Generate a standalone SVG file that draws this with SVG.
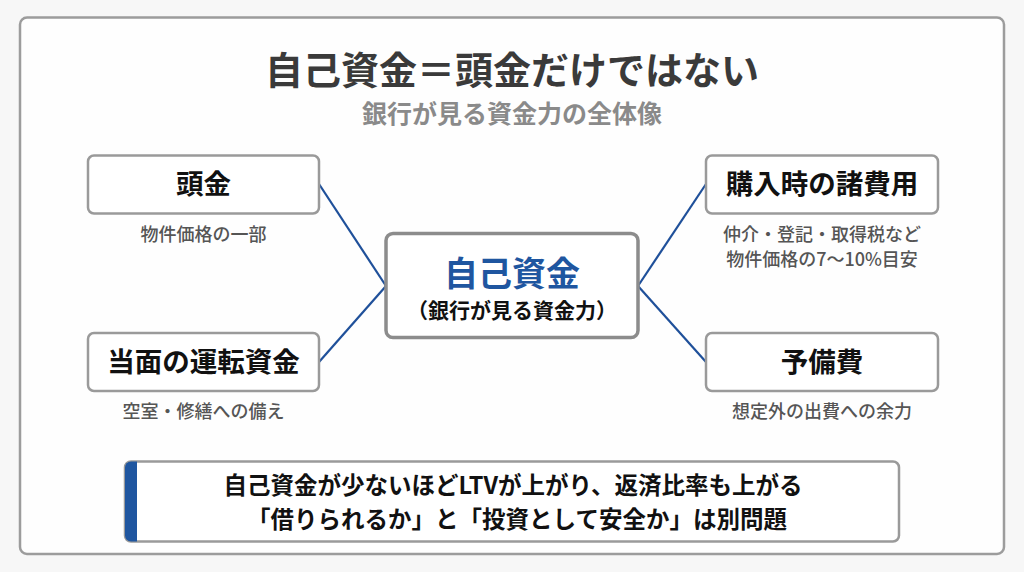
<svg xmlns="http://www.w3.org/2000/svg" width="1024" height="572" viewBox="0 0 1024 572">
<style>
  .jp { font-family: "Noto Sans CJK JP", "Noto Sans", sans-serif; }
  .box { fill: #ffffff; stroke: #9a9a9a; stroke-width: 2.5; }
  .ntitle { font-size: 27.5px; font-weight: 700; fill: #111111; text-anchor: middle; }
  .nsub { font-size: 18px; font-weight: 500; fill: #555555; text-anchor: middle; }
  .conn { stroke: #1f509a; stroke-width: 2.2; fill: none; }
  .note { font-size: 23.5px; font-weight: 700; fill: #111111; text-anchor: middle; }
</style>
<rect x="0" y="0" width="1024" height="572" fill="#f7f7f7"/>
<rect x="20" y="17.5" width="984" height="536.5" rx="7" fill="#fefefe" stroke="#9c9c9c" stroke-width="2.5"/>

<g id="title" class="jp">
  <text x="512" y="84" font-size="38" font-weight="700" fill="#3a3a3a" text-anchor="middle">自己資金＝頭金だけではない</text>
  <text x="512" y="123" font-size="25" font-weight="700" fill="#8a8a8a" text-anchor="middle">銀行が見る資金力の全体像</text>
</g>

<g id="connectors">
  <line class="conn" x1="319" y1="184" x2="386" y2="286"/>
  <line class="conn" x1="319" y1="362" x2="386" y2="286"/>
  <line class="conn" x1="638" y1="286" x2="706" y2="184"/>
  <line class="conn" x1="638" y1="286" x2="706" y2="362"/>
</g>

<g id="node-atamakin" class="jp">
  <rect class="box" x="88" y="155.5" width="231" height="58" rx="6"/>
  <text class="ntitle" x="203.5" y="194">頭金</text>
  <text class="nsub" x="203.5" y="241">物件価格の一部</text>
</g>

<g id="node-unten" class="jp">
  <rect class="box" x="88" y="333" width="231" height="58" rx="6"/>
  <text class="ntitle" x="203.5" y="372">当面の運転資金</text>
  <text class="nsub" x="203.5" y="418">空室・修繕への備え</text>
</g>

<g id="node-shohiyou" class="jp">
  <rect class="box" x="706" y="155.5" width="232" height="58" rx="6"/>
  <text class="ntitle" x="822" y="194">購入時の諸費用</text>
  <text class="nsub" x="822" y="241">仲介・登記・取得税など</text>
  <text class="nsub" x="822" y="266">物件価格の7〜10%目安</text>
</g>

<g id="node-yobihi" class="jp">
  <rect class="box" x="706" y="333" width="232" height="58" rx="6"/>
  <text class="ntitle" x="822" y="372">予備費</text>
  <text class="nsub" x="822" y="418">想定外の出費への余力</text>
</g>

<g id="node-center" class="jp">
  <rect x="386" y="233.5" width="252" height="104" rx="7" fill="#ffffff" stroke="#8c8c8c" stroke-width="3.5"/>
  <text x="512" y="286" font-size="34" font-weight="700" fill="#1f56a0" text-anchor="middle">自己資金</text>
  <text x="512" y="318" font-size="21" font-weight="700" fill="#111111" text-anchor="middle">（銀行が見る資金力）</text>
</g>

<g id="note" class="jp">
  <rect x="125" y="461.5" width="774" height="80" rx="6" fill="#ffffff" stroke="#9a9a9a" stroke-width="2.5"/>
  <path d="M131,461.5 H137 V541.5 H131 A6,6 0 0 1 125,535.5 V467.5 A6,6 0 0 1 131,461.5 Z" fill="#1f56a0"/>
  <text class="note" x="513" y="494">自己資金が少ないほどLTVが上がり、返済比率も上がる</text>
  <text class="note" x="517" y="528">「借りられるか」と「投資として安全か」は別問題</text>
</g>
</svg>
